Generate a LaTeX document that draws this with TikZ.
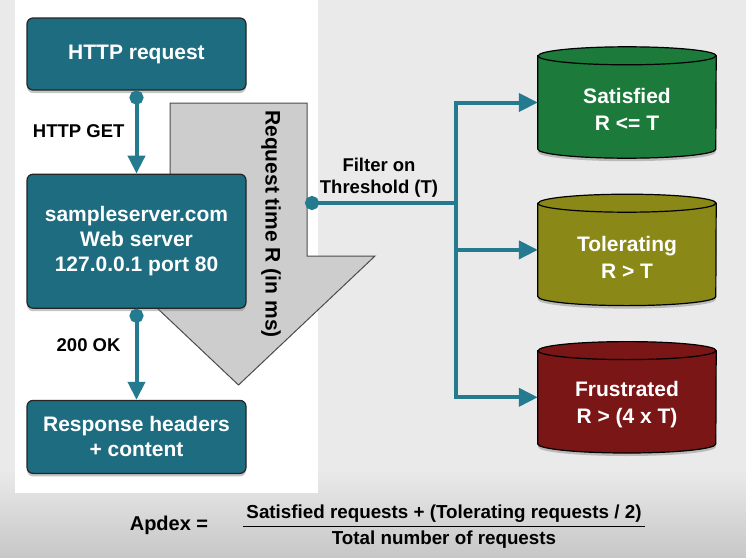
\documentclass[tikz,border=0pt]{standalone}
\usepackage{fontspec}
\setmainfont{Liberation Sans}
\usetikzlibrary{shapes.geometric, arrows.meta, positioning, calc, shadows}
\definecolor{boxteal}{RGB}{29,108,128}
\definecolor{lineteal}{RGB}{36,122,143}
\definecolor{satgreen}{RGB}{28,122,58}
\definecolor{tololive}{RGB}{138,136,22}
\definecolor{frured}{RGB}{122,22,22}
\definecolor{bggray}{RGB}{234,234,234}
\definecolor{arrowgray}{RGB}{205,205,205}

\begin{document}
\begin{tikzpicture}[
                x=1pt, y=-1pt,
                tealbox/.style={rectangle, draw=black!85, line width=1.2pt, fill=boxteal, rounded corners=6pt, minimum width=219pt, text=white, font=\fontsize{21}{25}\selectfont\bfseries, align=center, drop shadow={shadow xshift=0pt, shadow yshift=-3pt, opacity=0.45}},
                drumbody/.style={rectangle, inner sep=0pt, minimum width=178pt, minimum height=93pt},
                drumtext/.style={text=white, font=\fontsize{21}{27}\selectfont\bfseries, align=center},
                flow/.style={lineteal, line width=4pt, {Circle[length=14pt]}-{Triangle[length=18pt, width=17pt]}},
                branch/.style={lineteal, line width=4pt, -{Triangle[length=19pt, width=18pt]}},
                lbl/.style={font=\fontsize{18.5}{22}\selectfont\bfseries, align=center}
            ]
                % background
                \fill[bggray] (0,0) rectangle (746,557);
                \shade[top color=bggray, bottom color=black!22] (0,470) rectangle (746,557);
                \fill[white] (15,0) rectangle (318,493);

                % big request time arrow
                \filldraw[fill=arrowgray, draw=black!70, line width=1pt] (170,103) -- (307,103) -- (307,256) -- (375,256) -- (238.5,385) -- (102,256) -- (170,256) -- cycle;
                \node[font=\fontsize{21}{25}\selectfont\bfseries, rotate=-90] (rtime) at (271,224) {Request time R (in ms)};

                \node[tealbox, minimum height=72pt] (req) at (136.5,54) {HTTP request};
                \node[tealbox, minimum height=134pt, below=83pt of req] (server) {sampleserver.com\\Web server\\127.0.0.1 port 80};
                \node[tealbox, minimum height=73pt, below=91pt of server] (resp) {Response headers\\+ content};

                \draw[flow] (req.south) -- (server.north);
                \draw[flow] (server.south) -- (resp.north);
                \node[lbl, anchor=east] (get) at (128,131) {HTTP GET};
                \node[lbl, anchor=east] (ok) at (124,345) {200 OK};

                % threshold buckets
                \node[drumbody] (sat) at (627,102.5) {};
                \node[drumbody, below=54pt of sat] (tol) {};
                \node[drumbody, below=54pt of tol] (fru) {};
                \foreach \n/\c in {sat/satgreen, tol/tololive, fru/frured} {
                    \filldraw[fill=\c, draw=black, line width=1.2pt, drop shadow={shadow xshift=0pt, shadow yshift=-3pt, opacity=0.45}]
                        (\n.north west) -- (\n.south west) arc[start angle=180, end angle=360, x radius=89pt, y radius=9pt]
                        -- (\n.north east) arc[start angle=0, end angle=180, x radius=89pt, y radius=9pt] -- cycle;
                    \draw[line width=1.2pt] (\n.north west) arc[start angle=180, end angle=360, x radius=89pt, y radius=9pt];
                }
                \node[drumtext] (sattext) at ([yshift=-7pt]sat.center) {Satisfied\\R <= T};
                \node[drumtext] (toltext) at ([yshift=-7pt]tol.center) {Tolerating\\R > T};
                \node[drumtext] (frutext) at ([yshift=-7pt]fru.center) {Frustrated\\R > (4 x T)};

                \coordinate (filt) at (305,203);
                \coordinate (fork) at (456,203);
                \draw[lineteal, line width=4pt, {Circle[length=14pt]}-] (filt) -- (fork);
                \draw[branch] (fork) |- (sat.west);
                \draw[branch] (fork) |- (tol.west);
                \draw[branch] (fork) |- (fru.west);
                \node[lbl] (thr) at (379,178) {Filter on\\Threshold (T)};

                % apdex formula
                \node[font=\fontsize{20}{24}\selectfont\bfseries] (apdex) at (169,525) {Apdex =};
                \node[lbl, font=\fontsize{18.8}{22}\selectfont\bfseries] (num) at (444,514) {Satisfied requests + (Tolerating requests / 2)};
                \node[lbl, font=\fontsize{18.8}{22}\selectfont\bfseries] (den) at (444,540) {Total number of requests};
                \draw[line width=1.5pt] (num.south west) -- (num.south east);
            \end{tikzpicture}
\end{document}
